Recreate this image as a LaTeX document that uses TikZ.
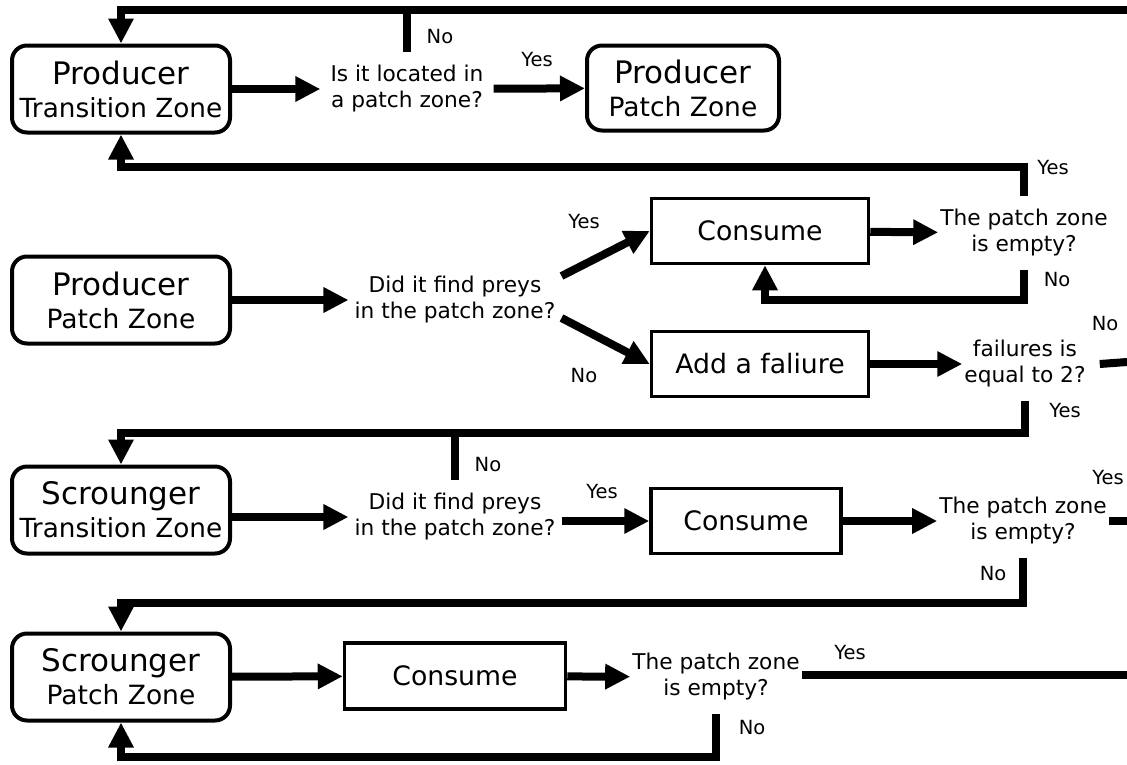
\documentclass[tikz,border=0pt]{standalone}
\usepackage{fontspec}
\setmainfont{DejaVu Sans}
\usetikzlibrary{arrows.meta}

\begin{document}
\begin{tikzpicture}[
  x=1pt, y=-1pt,
  zone/.style={draw, rounded corners=15pt, line width=4pt, minimum width=218pt, minimum height=87pt, align=center, font=\fontsize{31}{33}\selectfont, inner sep=2pt},
  task/.style={draw, line width=3.5pt, minimum height=65pt, align=center, font=\fontsize{26.7}{30}\selectfont},
  ask/.style={align=center, font=\fontsize{21.7}{26}\selectfont, inner xsep=2pt, inner ysep=13pt},
  lab/.style={font=\fontsize{19.5}{21}\selectfont, inner sep=0pt},
  link/.style={draw, line width=8pt},
  flow/.style={link, -{Triangle[length=25pt, width=24pt]}}
]
\path[use as bounding box, fill=white] (0,0) rectangle (1127,764);

\node[zone] (pt) at (121,89) {Producer\\\fontsize{26.3}{33}\selectfont Transition Zone};
\node[ask, inner xsep=10pt] (q1) at (407,89) {Is it located in\\a patch zone?};
\node[zone, minimum width=192pt, minimum height=85pt] (pp1) at (683,88) {Producer\\\fontsize{26.5}{33}\selectfont Patch Zone};

\node[zone] (pp2) at (121,300) {Producer\\\fontsize{26.5}{33}\selectfont Patch Zone};
\node[ask, inner xsep=6pt] (q2) at (455,300) {Did it find preys\\in the patch zone?};
\node[task, minimum width=217pt] (c1) at (760,231) {Consume};
\node[ask] (q3) at (1024,233) {The patch zone\\is empty?};
\node[task, minimum width=217pt] (f1) at (760,364) {Add a faliure};
\node[ask] (q4) at (1025,364) {failures is\\equal to 2?};

\node[zone] (st) at (121,510) {Scrounger\\\fontsize{26.3}{33}\selectfont Transition Zone};
\node[ask, inner xsep=6pt] (q5) at (455,517) {Did it find preys\\in the patch zone?};
\node[task, minimum width=190pt] (c2) at (746,521) {Consume};
\node[ask] (q6) at (1023,521) {The patch zone\\is empty?};

\node[zone] (sp) at (121,677) {Scrounger\\\fontsize{26.5}{33}\selectfont Patch Zone};
\node[task, minimum width=221pt, minimum height=66pt] (c3) at (455,676) {Consume};
\node[ask] (q7) at (716,677) {The patch zone\\is empty?};

\coordinate (k0) at (121,10);
\coordinate (e0) at (1127,10);
\coordinate (k1) at (121,167);
\coordinate (k2) at (765,300);
\coordinate (e1) at (1127,362);
\coordinate (k3) at (121,433);
\coordinate (e2) at (1127,521);
\coordinate (k4) at (121,603);
\coordinate (e3) at (1127,675);
\coordinate (k5) at (121,757);

\draw[flow] (e0) -- (k0) -- (pt.north);
\draw[link] (q1.north) -- (q1.north |- k0);
\draw[flow] (pt) -- (q1);
\draw[flow] (q1) -- (pp1);
\draw[flow] (q3.north) |- (k1) -- (pt.south);

\draw[flow] (pp2) -- (q2);
\draw[flow] ([yshift=24pt]q2.east) -- (c1.west);
\draw[flow] ([yshift=-18pt]q2.east) -- (f1.west);
\draw[flow] (c1) -- (q3);
\draw[flow] (q3.south) |- (k2) -- (c1.south -| k2);
\draw[flow] (f1) -- (q4);
\draw[link] ([xshift=12pt]q4.east) -- (e1);
\draw[flow] (q4.south) |- (k3) -- (st.north);

\draw[link] (q5.north) -- (q5.north |- k3);
\draw[flow] (st.east |- q5) -- (q5);
\draw[flow] (q5.east |- c2) -- (c2);
\draw[flow] (c2) -- (q6);
\draw[link] (q6.east) -- (e2);
\draw[flow] (q6.south) |- (k4) -- (sp.north);

\draw[flow] (sp) -- (c3);
\draw[flow] (c3) -- (q7);
\draw[link] (q7.east |- e3) -- (e3);
\draw[flow] (q7.south) |- (k5) -- (sp.south);

\node[lab] (n1) at (440,37) {No};
\node[lab] (y1) at (537,60) {Yes};
\node[lab] (y2) at (1053,168) {Yes};
\node[lab] (y3) at (584,222) {Yes};
\node[lab] (n2) at (1057,280) {No};
\node[lab] (n3) at (1105,324) {No};
\node[lab] (n4) at (584,376) {No};
\node[lab] (y4) at (1065,411) {Yes};
\node[lab] (n5) at (488,465) {No};
\node[lab] (y5) at (602,492) {Yes};
\node[lab] (y6) at (1108,478) {Yes};
\node[lab] (n6) at (993,574) {No};
\node[lab] (y7) at (850,653) {Yes};
\node[lab] (n7) at (752,728) {No};
\end{tikzpicture}
\end{document}
